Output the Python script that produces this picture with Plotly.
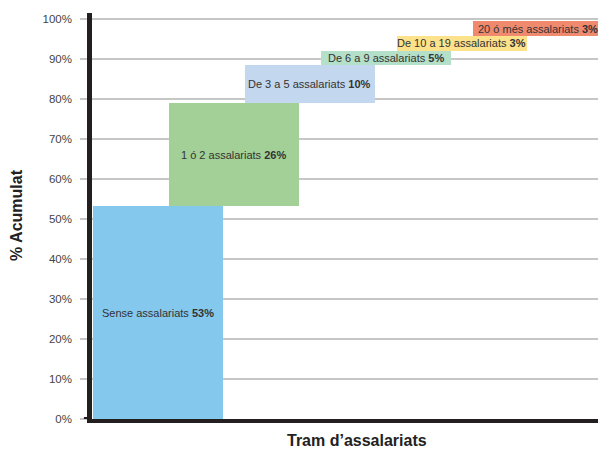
import numpy as np
import plotly.graph_objects as go

categories = ["Sense assalariats", "1 ó 2 assalariats", "De 3 a 5 assalariats",
              "De 6 a 9 assalariats", "De 10 a 19 assalariats", "20 ó més assalariats"]
heights = [53.3, 25.7, 9.5, 3.7, 3.6, 3.8]          # box heights as drawn (% points)
pct_labels = ["53%", "26%", "10%", "5%", "3%", "3%"]  # printed shares
colors = ["#85C8EE", "#A2D097", "#C3D7EE", "#B4DFC8", "#FCE28A", "#EF8A6F"]
y_ticks = [0, 10, 20, 30, 40, 50, 60, 70, 80, 90, 100]

heights_arr = np.array(heights)
bases = np.concatenate([[0], np.cumsum(heights_arr)[:-1]])
xpos = list(range(len(categories)))

FONT = "Liberation Sans, Arial, sans-serif"

fig = go.Figure()
fig.add_trace(go.Bar(
    x=xpos, y=heights, base=bases, width=1.71,
    marker=dict(color=colors, line=dict(width=0)),
    hoverinfo="skip", showlegend=False,
))

for i, (cat, h, b, p) in enumerate(zip(categories, heights, bases, pct_labels)):
    fig.add_annotation(
        x=i, y=b + h / 2, xref="x", yref="y",
        text=f"{cat} <b>{p}</b>", showarrow=False,
        font=dict(family=FONT, size=11, color="#333333"),
        xanchor="center", yanchor="middle",
    )

fig.update_layout(
    width=598, height=449,
    margin=dict(l=92, r=0, t=13, b=30),
    paper_bgcolor="white", plot_bgcolor="white",
    font=dict(family=FONT),
    xaxis=dict(
        range=[-0.868, 5.79], showticklabels=False, ticks="",
        showgrid=False, zeroline=False,
        showline=True, linecolor="#231F20", linewidth=4,
        fixedrange=True,
    ),
    yaxis=dict(
        range=[0, 101.6], tickvals=y_ticks,
        ticktext=[f"{v}%" for v in y_ticks],
        tickfont=dict(family=FONT, size=11.5, color="#444444"),
        ticks="outside", ticklen=7, tickwidth=2, tickcolor="#C6C6C6",
        ticklabelstandoff=6,
        showgrid=True, gridcolor="#C6C6C6", gridwidth=2,
        zeroline=False,
        showline=True, linecolor="#231F20", linewidth=4.5,
        fixedrange=True,
    ),
    bargap=0,
)

# short black extension of the base line to the left
fig.add_shape(type="line", xref="paper", yref="y",
              x0=-0.016, x1=0, y0=0, y1=0,
              line=dict(color="#231F20", width=4))

fig.add_annotation(
    x=357, y=440, xref="x domain", yref="paper", text="<b>Tram d’assalariats</b>",
    showarrow=False, font=dict(family=FONT, size=16, color="#222222"),
)
fig.layout.annotations[-1].update(xref="paper", x=(357 - 92) / 506, y=(449 - 30 - 440) / 406,
                                  xanchor="center", yanchor="middle")
fig.add_annotation(
    xref="paper", yref="paper", x=(17 - 92) / 506, y=(419 - 215) / 406,
    text="<b>% Acumulat</b>", textangle=-90, showarrow=False,
    font=dict(family=FONT, size=16, color="#222222"),
    xanchor="center", yanchor="middle",
)

fig.write_html("out.html")
